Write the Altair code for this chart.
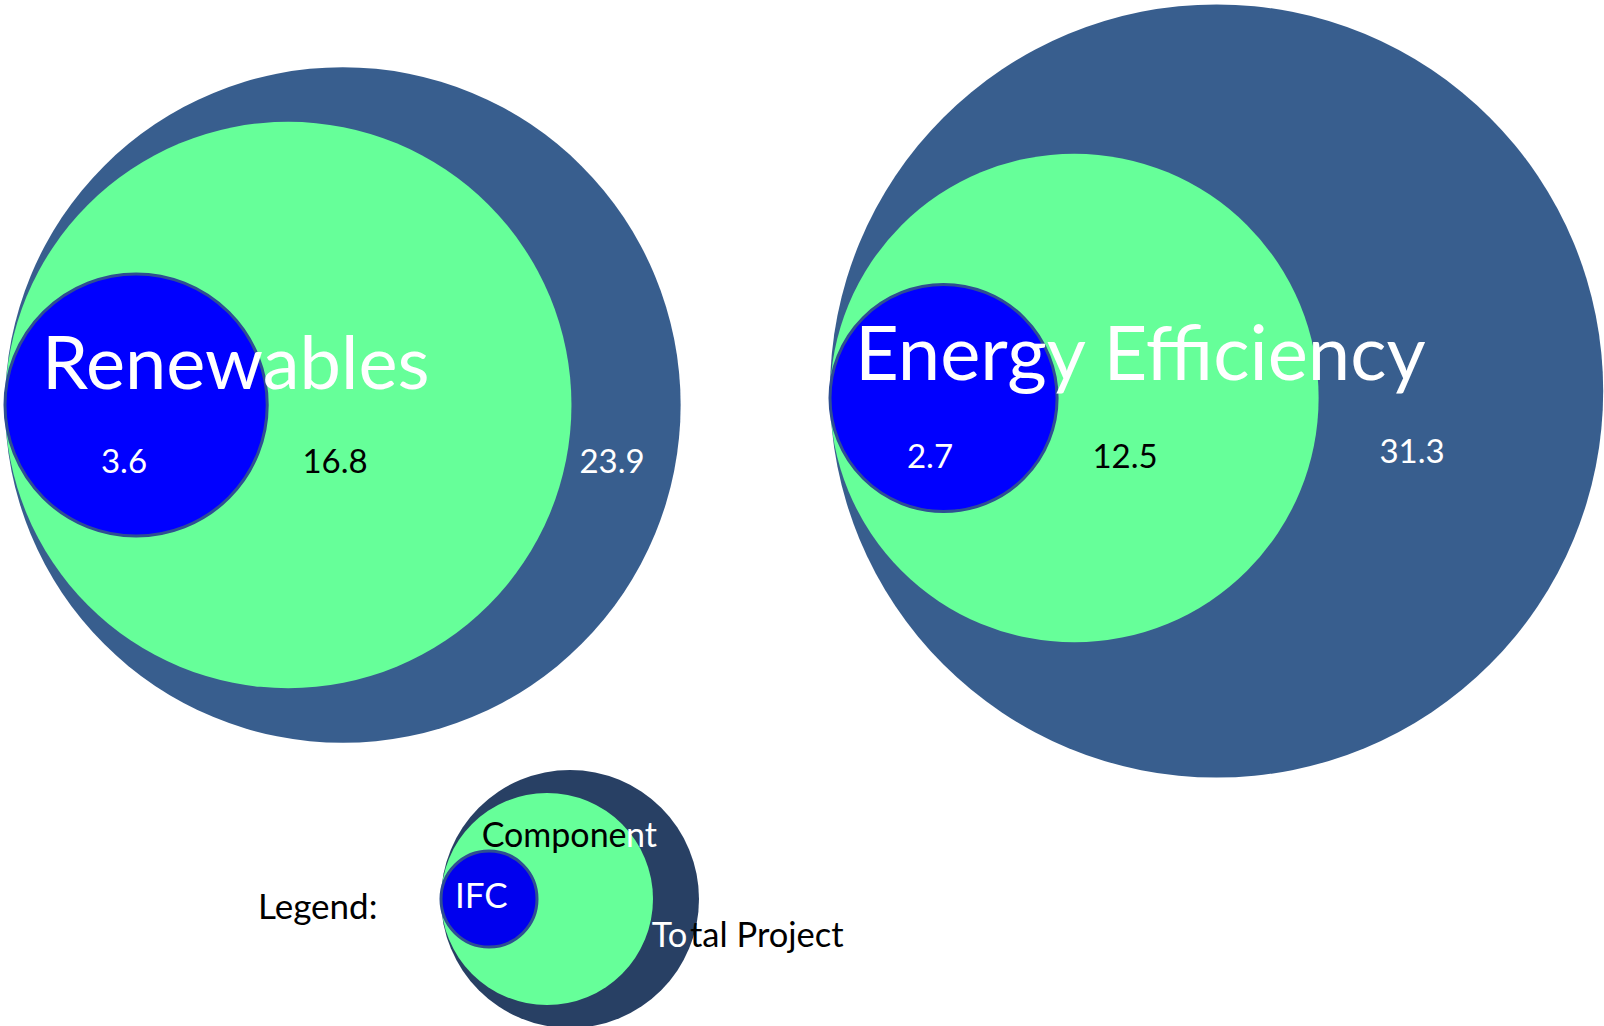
import altair as alt
import pandas as pd

# ---------------- data ----------------
groups = ["Renewables", "Energy Efficiency"]
levels = ["Total Project", "Component", "IFC"]
renewables_values = [23.9, 16.8, 3.6]
efficiency_values = [31.3, 12.5, 2.7]
legend_word = "Legend:"

# ---------------- layout / style ----------------
W, H = 1604, 1026
SIZE_PER_UNIT = 19100          # symbol size (px^2 of bounding square) per unit of value
FONT = "Lato"

left_edge = [5, 830]                                   # circles are tangent on the left
center_y = [[405, 405, 405], [391, 398, 398]]
label_x = [[612, 335, 124], [1412, 1125, 930]]
label_base = [[473, 473, 473], [462.5, 467.5, 467.5]]
title_x = [42, 855]
title_base = [388.5, 380]
title_size = [74, 76]

fill_colors = ["#385E8E", "#66FF99", "#0000FF"]
text_colors = ["#FFFFFF", "#000000", "#FFFFFF"]
ifc_stroke = "#2F4F92"

legend_left = 441
legend_cy = [899, 899, 899]
legend_radius = [129, 106, 48]
legend_fill = ["#284064", "#66FF99", "#0000EE"]

# ---------------- tables ----------------
all_values = [renewables_values, efficiency_values]
rows = []
for gi, g in enumerate(groups):
    for li, lv in enumerate(levels):
        rows.append(dict(group=g, level=lv, rank=li, value=all_values[gi][li],
                         left=left_edge[gi], cy=center_y[gi][li],
                         lx=label_x[gi][li], ly=label_base[gi][li],
                         label=f"{all_values[gi][li]:.1f}"))
df = pd.DataFrame(rows)

titles = pd.DataFrame(dict(text=groups, x=title_x, y=title_base, size=title_size))

max_v = max(max(v) for v in all_values)

xs = alt.Scale(domain=[0, W], nice=False, zero=False)
ys = alt.Scale(domain=[0, H], nice=False, zero=False, reverse=True)
size_scale = alt.Scale(domain=[0, max_v], range=[0, max_v * SIZE_PER_UNIT])
fill_scale = alt.Scale(domain=levels, range=fill_colors)
text_scale = alt.Scale(domain=levels, range=text_colors)

base = alt.Chart(df).transform_calculate(
    cx=f"datum.left + sqrt({SIZE_PER_UNIT} * datum.value) / 2"
)


def circle_layer(level, stroke=None):
    kw = dict(filled=True, shape="circle", opacity=1)
    if stroke:
        kw.update(stroke=stroke, strokeWidth=3, strokeOpacity=1)
    else:
        kw.update(strokeWidth=0)
    return base.transform_filter(alt.datum.level == level).mark_point(**kw).encode(
        x=alt.X("cx:Q", scale=xs, axis=None),
        y=alt.Y("cy:Q", scale=ys, axis=None),
        size=alt.Size("value:Q", scale=size_scale, legend=None),
        fill=alt.Fill("level:N", scale=fill_scale, legend=None),
    )


circles = [circle_layer(levels[0]), circle_layer(levels[1]), circle_layer(levels[2], ifc_stroke)]

value_text = alt.Chart(df).mark_text(
    font=FONT, fontSize=33, align="center", baseline="alphabetic"
).encode(
    x=alt.X("lx:Q", scale=xs, axis=None),
    y=alt.Y("ly:Q", scale=ys, axis=None),
    text="label:N",
    color=alt.Color("level:N", scale=text_scale, legend=None),
)

title_text = alt.Chart(titles).mark_text(
    font=FONT, align="left", baseline="alphabetic", color="#FFFFFF"
).encode(
    x=alt.X("x:Q", scale=xs, axis=None),
    y=alt.Y("y:Q", scale=ys, axis=None),
    text="text:N",
    size=alt.Size("size:Q", scale=None, legend=None),
)

# ---------------- legend ----------------
leg_df = pd.DataFrame(dict(
    level=levels,
    cx=[legend_left + r for r in legend_radius],
    cy=legend_cy,
))
leg_circles = []
for i, lv in enumerate(levels):
    kw = dict(filled=True, shape="circle", opacity=1, fill=legend_fill[i])
    if i == 2:
        kw.update(stroke=ifc_stroke, strokeWidth=3)
    else:
        kw.update(strokeWidth=0)
    leg_circles.append(
        alt.Chart(leg_df).transform_filter(alt.datum.level == lv).mark_point(**kw).encode(
            x=alt.X("cx:Q", scale=xs, axis=None),
            y=alt.Y("cy:Q", scale=ys, axis=None),
            size=alt.value((2 * legend_radius[i]) ** 2),
        )
    )

comp = levels[1]
total = levels[0]
leg_text = pd.DataFrame(dict(
    text=[legend_word, levels[2], comp[:7], comp[7:], total[:2], total[2:]],
    x=[258, 455, 481.7, 626, 651.7, 690],
    y=[918.7, 908, 847.3, 847.3, 946.7, 946.7],
    size=[35, 35, 34, 34, 34.5, 34.5],
    tone=["dark", "light", "dark", "light", "light", "dark"],
))
leg_text_layer = alt.Chart(leg_text).mark_text(
    font=FONT, align="left", baseline="alphabetic"
).encode(
    x=alt.X("x:Q", scale=xs, axis=None),
    y=alt.Y("y:Q", scale=ys, axis=None),
    text="text:N",
    size=alt.Size("size:Q", scale=None, legend=None),
    color=alt.Color("tone:N", scale=alt.Scale(domain=["dark", "light"], range=["#000000", "#FFFFFF"]), legend=None),
)

chart = alt.layer(
    *circles, value_text, title_text, *leg_circles, leg_text_layer
).resolve_scale(
    color="independent", size="independent"
).properties(
    width=W, height=H, padding=0, autosize=alt.AutoSizeParams(type="none"),
    background="#FFFFFF",
).configure_view(stroke=None)

chart.save("out.html", embed_options={"renderer": "svg", "actions": False})
